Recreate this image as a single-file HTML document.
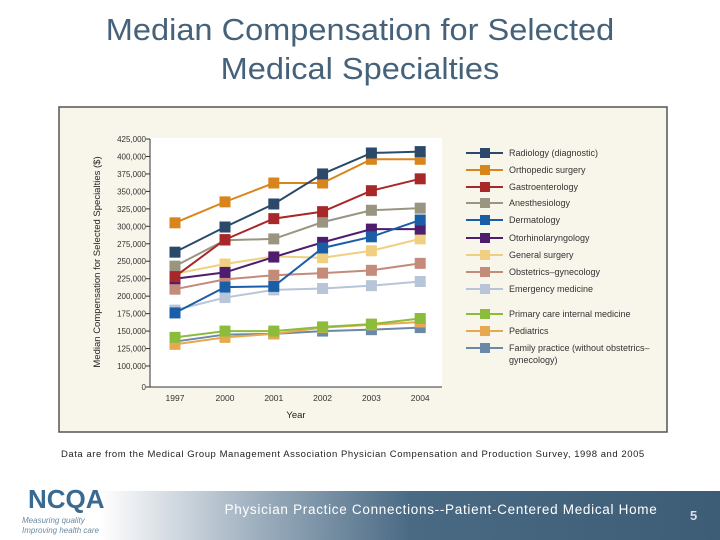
<!DOCTYPE html>
<html><head><meta charset="utf-8"><style>
body{margin:0;width:720px;height:540px;background:#fff;position:relative;overflow:hidden;font-family:"Liberation Sans",sans-serif}
.title{position:absolute;left:0;width:720px;top:10px;text-align:center;color:#46627a;font-size:31px;line-height:39px;transform:scaleX(1.05)}
</style></head><body>
<div class="title">Median Compensation for Selected<br>Medical Specialties</div>
<svg width="720" height="540" style="position:absolute;left:0;top:0" id="svg">
<rect x="59" y="107" width="608" height="325" fill="#f8f5ea" stroke="#555" stroke-width="1.5"/>
<rect x="150" y="138" width="292" height="249" fill="#fff"/>
<text x="61" y="457" font-size="9.5" letter-spacing="0.55" fill="#222">Data are from the Medical Group Management Association Physician Compensation and Production Survey, 1998 and 2005</text>
<defs><linearGradient id="fg" x1="0" x2="1"><stop offset="0" stop-color="#fff"/><stop offset="0.25" stop-color="#9fb0bf"/><stop offset="0.5" stop-color="#4a6a84"/><stop offset="1" stop-color="#3d5c76"/></linearGradient></defs>
<rect x="100" y="491" width="620" height="49" fill="url(#fg)"/>
<text x="441" y="514" font-size="13.5" letter-spacing="0.7" fill="#fff" text-anchor="middle">Physician Practice Connections--Patient-Centered Medical  Home</text>
<text x="690" y="520" font-size="13" fill="#dde" font-weight="bold">5</text>
<text x="28" y="508" font-size="26" fill="#3a6a90" font-weight="bold">NCQA</text>
<text x="22" y="523" font-size="8" fill="#6a8aa0" font-style="italic">Measuring quality</text>
<text x="22" y="533" font-size="8" fill="#6a8aa0" font-style="italic">Improving health care</text>
<g id="g"></g>
</svg>
<script>
const years=["1997","2000","2001","2002","2003","2004"];
const yTicks=[0,100000,125000,150000,175000,200000,225000,250000,275000,300000,325000,350000,375000,400000,425000];
const names=["Radiology (diagnostic)","Orthopedic surgery","Gastroenterology","Anesthesiology","Dermatology","Otorhinolaryngology","General surgery","Obstetrics\u2013gynecology","Emergency medicine","Primary care internal medicine","Pediatrics","Family practice (without obstetrics\u2013"];
const colors=["#2b4a6b","#d8861c","#a8282a","#9a9580","#1a5ea8","#4e1d6e","#f0d080","#c48a7a","#b8c4d8","#8cbc3c","#e8a850","#6a88a8"];
const radiology=[263000,299000,332000,375000,405000,407000];
const ortho=[305000,335000,362000,362000,396000,396000];
const gastro=[228000,281000,311000,321000,351000,368000];
const anesth=[243000,280000,282000,306000,323000,326000];
const derm=[176000,213000,214000,269000,285000,309000];
const ent=[225000,234000,256000,277000,296000,296000];
const gensurg=[232000,246000,257000,255000,265000,282000];
const obgyn=[210000,224000,230000,233000,237000,247000];
const emerg=[180000,198000,209000,211000,215000,221000];
const primary=[141000,150000,150000,156000,160000,168000];
const peds=[131000,141000,146000,155000,159000,163000];
const family=[135000,145000,146000,150000,152000,155000];
const series=[radiology,ortho,gastro,anesth,derm,ent,gensurg,obgyn,emerg,primary,peds,family];
const NS="http://www.w3.org/2000/svg",g=document.getElementById("g");
function xs(i){return 175+(i===0?0:50+(i-1)*48.8);}
function ys(v){return v===0?387:366-(v-100000)/25000*17.46;}
function mk(t,a){const e=document.createElementNS(NS,t);for(const k in a)e.setAttribute(k,a[k]);g.appendChild(e);return e;}
let e=mk("line",{x1:150,y1:387,x2:442,y2:387,stroke:"#333"});


e=mk("line",{x1:150,y1:139,x2:150,y2:387,stroke:"#333"});


yTicks.forEach(v=>{const t=mk("text",{x:146,y:ys(v)+3,"font-size":8,"text-anchor":"end",fill:"#333"});t.textContent=v.toLocaleString("en-US");


mk("line",{x1:146,y1:ys(v),x2:150,y2:ys(v),stroke:"#333"});});
years.forEach((y,i)=>{const t=mk("text",{x:xs(i),y:401,"font-size":8.5,"text-anchor":"middle",fill:"#333"});t.textContent=y;

});
e=mk("text",{x:296,y:418,"font-size":9.5,"text-anchor":"middle",fill:"#222"});e.textContent="Year";


e=mk("text",{x:0,y:0,"font-size":9.5,"text-anchor":"middle",fill:"#222",transform:"translate(100,262) rotate(-90)"});e.textContent="Median Compensation for Selected Specialties ($)";


for(let s=series.length-1;s>=0;s--){const d=series[s];
 const p=mk("polyline",{points:d.map((v,i)=>xs(i)+","+ys(v)).join(" "),fill:"none",stroke:colors[s],"stroke-width":2});
 
 
 d.forEach((v,i)=>{const r=mk("rect",{x:xs(i)-5.5,y:ys(v)-5.5,width:11,height:11,fill:colors[s]});
 
 });}
const ly=[153,170,187,203,220,238,255,272,289,314,331,348];
names.forEach((n,i)=>{const y=ly[i];
 const l=mk("line",{x1:466,y1:y,x2:503,y2:y,stroke:colors[i],"stroke-width":2});
 
 
 const r=mk("rect",{x:480,y:y-5,width:10,height:10,fill:colors[i]});
 
 
 const t=mk("text",{x:509,y:y+3,"font-size":9,fill:"#333"});t.textContent=n;
 
 });
e=mk("text",{x:509,y:363,"font-size":9,fill:"#333"});e.textContent="gynecology)";


</script>
</body></html>
